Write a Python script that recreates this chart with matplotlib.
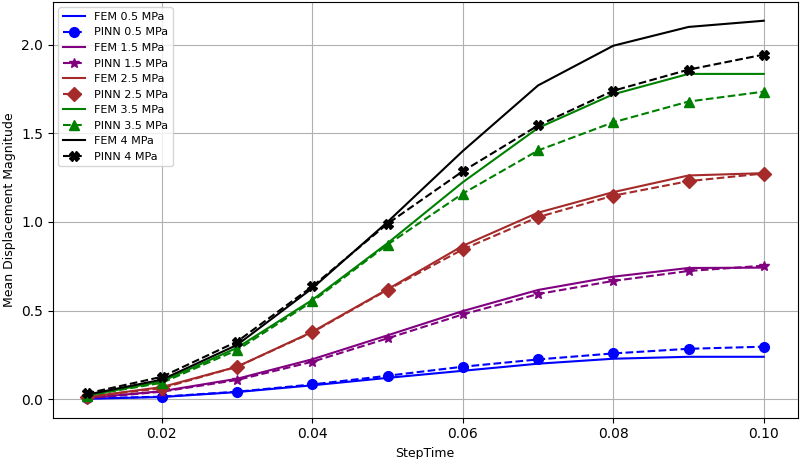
import matplotlib
matplotlib.use("Agg")
import matplotlib.pyplot as plt

step_time = [0.01, 0.02, 0.03, 0.04, 0.05, 0.06, 0.07, 0.08, 0.09, 0.10]

fem_05 = [0.002, 0.012, 0.040, 0.078, 0.120, 0.160, 0.200, 0.228, 0.239, 0.239]
pinn_05 = [0.004, 0.014, 0.042, 0.083, 0.132, 0.183, 0.224, 0.258, 0.284, 0.296]
fem_15 = [0.006, 0.045, 0.115, 0.225, 0.360, 0.497, 0.616, 0.691, 0.740, 0.742]
pinn_15 = [0.005, 0.042, 0.108, 0.211, 0.343, 0.478, 0.593, 0.667, 0.723, 0.753]
fem_25 = [0.012, 0.068, 0.183, 0.380, 0.620, 0.865, 1.052, 1.168, 1.262, 1.275]
pinn_25 = [0.012, 0.062, 0.183, 0.377, 0.617, 0.845, 1.027, 1.148, 1.230, 1.273]
fem_35 = [0.020, 0.100, 0.290, 0.560, 0.880, 1.224, 1.530, 1.720, 1.835, 1.835]
pinn_35 = [0.020, 0.092, 0.277, 0.551, 0.872, 1.160, 1.403, 1.562, 1.679, 1.735]
fem_4 = [0.025, 0.110, 0.306, 0.626, 1.000, 1.400, 1.770, 1.994, 2.100, 2.135]
pinn_4 = [0.032, 0.126, 0.325, 0.636, 0.990, 1.286, 1.544, 1.740, 1.859, 1.944]

fig, ax = plt.subplots(figsize=(8, 4.59), dpi=100)

ax.plot(step_time, fem_05, '-', color='blue', label='FEM 0.5 MPa')
ax.plot(step_time, pinn_05, '--', color='blue', marker='o', markersize=7, label='PINN 0.5 MPa')
ax.plot(step_time, fem_15, '-', color='purple', label='FEM 1.5 MPa')
ax.plot(step_time, pinn_15, '--', color='purple', marker='*', markersize=7, label='PINN 1.5 MPa')
ax.plot(step_time, fem_25, '-', color='brown', label='FEM 2.5 MPa')
ax.plot(step_time, pinn_25, '--', color='brown', marker='D', markersize=7, label='PINN 2.5 MPa')
ax.plot(step_time, fem_35, '-', color='green', label='FEM 3.5 MPa')
ax.plot(step_time, pinn_35, '--', color='green', marker='^', markersize=7, label='PINN 3.5 MPa')
ax.plot(step_time, fem_4, '-', color='black', label='FEM 4 MPa')
ax.plot(step_time, pinn_4, '--', color='black', marker='X', markersize=7, label='PINN 4 MPa')

ax.set_xlabel('StepTime', fontsize=9)
ax.set_ylabel('Mean Displacement Magnitude', fontsize=9)
ax.set_xticks([0.02, 0.04, 0.06, 0.08, 0.10])
ax.set_yticks([0.0, 0.5, 1.0, 1.5, 2.0])
ax.tick_params(labelsize=10)
ax.grid(True)
ax.legend(loc='upper left', fontsize=8)

fig.subplots_adjust(left=0.066, right=0.997, top=0.996, bottom=0.09)
fig.savefig('out.png')
